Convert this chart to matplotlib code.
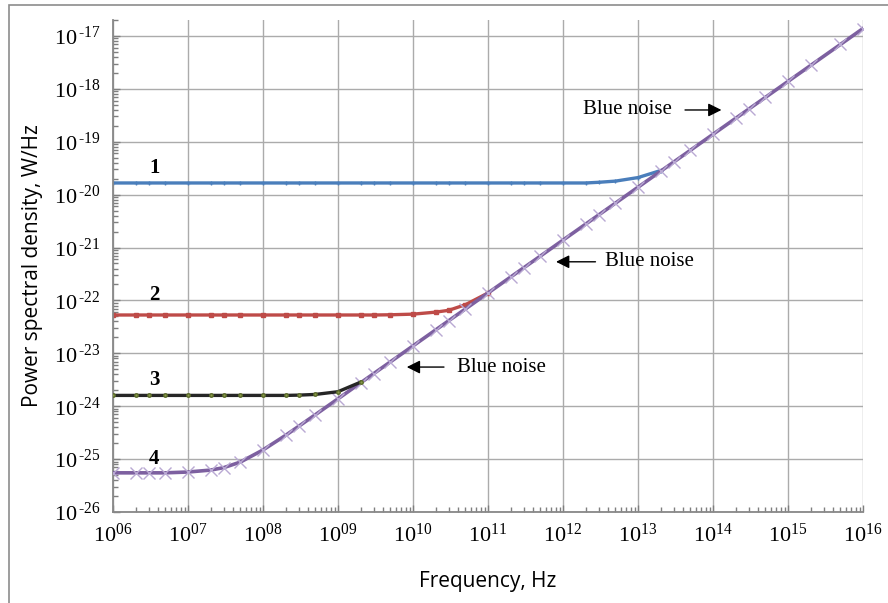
import matplotlib
matplotlib.use('Agg')
import matplotlib.pyplot as plt
from matplotlib.patches import Rectangle
from matplotlib.ticker import LogLocator, FixedLocator, FixedFormatter, NullFormatter

plt.rcParams['mathtext.fontset'] = 'custom'
plt.rcParams['mathtext.rm'] = 'Liberation Serif'
plt.rcParams['mathtext.it'] = 'Liberation Serif:italic'

# frequencies of the marker points, Hz
freq = [1e6, 2e6, 3e6, 5e6, 1e7, 2e7, 3e7, 5e7, 1e8, 2e8, 3e8, 5e8,
        1e9, 2e9, 3e9, 5e9, 1e10, 2e10, 3e10, 5e10, 1e11, 2e11, 3e11, 5e11,
        1e12, 2e12, 3e12, 5e12, 1e13, 2e13, 3e13, 5e13, 1e14, 2e14, 3e14, 5e14,
        1e15, 2e15, 5e15, 1e16]

# curve 4 (purple), W/Hz
psd4 = [5.5e-26, 5.5e-26, 5.5e-26, 5.5e-26, 5.7e-26, 6.2e-26, 6.9e-26, 8.8e-26,
        1.49e-25, 2.81e-25, 4.18e-25, 6.92e-25,
        1.38e-24, 2.76e-24, 4.14e-24, 6.9e-24, 1.38e-23, 2.76e-23, 4.14e-23, 6.9e-23,
        1.38e-22, 2.76e-22, 4.14e-22, 6.9e-22, 1.38e-21, 2.76e-21, 4.14e-21, 6.9e-21,
        1.38e-20, 2.76e-20, 4.14e-20, 6.9e-20, 1.38e-19, 2.76e-19, 4.14e-19, 6.9e-19,
        1.38e-18, 2.76e-18, 6.9e-18, 1.38e-17]

# curve 1 (blue): up to 2e13 Hz
psd1 = [1.66e-20] * 26 + [1.71e-20, 1.8e-20, 2.1e-20, 2.85e-20]

# curve 2 (red): up to 1e11 Hz
psd2 = [5.3e-23] * 15 + [5.35e-23, 5.5e-23, 6.0e-23, 6.5e-23, 8.3e-23, 1.38e-22]

# curve 3 (black): up to 2e9 Hz
psd3 = [1.6e-24] * 10 + [1.62e-24, 1.67e-24, 1.88e-24, 2.85e-24]

xlabels = ['10$^{%02d}$' % k for k in range(6, 17)]
ylabels = ['10$^{\\,\u2010%d}$' % -k for k in range(-26, -16)]

fig = plt.figure(figsize=(8.88, 6.03), dpi=100)
ax = fig.add_axes([113/888, 91/603, 750/888, 492/603])

ax.plot(freq[:len(psd1)], psd1, color='#4a7ebb', lw=2.4, marker='+', ms=3, mew=1)
ax.plot(freq[:len(psd2)], psd2, color='#be4b48', lw=2.4, marker='s', ms=3.2)
ax.plot(freq, psd4, color='#7d60a0', lw=2.6, marker='x', ms=9, mew=1,
        mec='#b9a9d3', zorder=3)
ax.plot(freq[:len(psd3)], psd3, color='#262626', lw=2.4, marker='o', ms=2.5,
        mfc='#8a9a4a', mec='#5a6a2a', zorder=4)

ax.set_xscale('log')
ax.set_yscale('log')
ax.set_xlim(1e6, 1e16)
ax.set_ylim(1e-26, 2e-17)

ax.xaxis.set_major_locator(FixedLocator([10.0**k for k in range(6, 17)]))
ax.xaxis.set_major_formatter(FixedFormatter(xlabels))
ax.yaxis.set_major_locator(FixedLocator([10.0**k for k in range(-26, -16)]))
ax.yaxis.set_major_formatter(FixedFormatter(ylabels))
for axis in (ax.xaxis, ax.yaxis):
    axis.set_minor_locator(LogLocator(base=10, subs=range(2, 10), numticks=50))
    axis.set_minor_formatter(NullFormatter())
for lbl in ax.get_xticklabels() + ax.get_yticklabels():
    lbl.set_family('Liberation Serif')

ax.tick_params(which='both', direction='in', color='#7f7f7f', labelsize=16)
ax.tick_params(which='major', length=5, width=1)
ax.tick_params(which='minor', length=3.5, width=1)
ax.tick_params(axis='x', pad=8)
ax.tick_params(axis='y', pad=9)

ax.grid(True, which='major', color='#ababab', lw=1.0)
ax.set_axisbelow(True)
for s in ('top', 'right'):
    ax.spines[s].set_visible(False)
for s in ('left', 'bottom'):
    ax.spines[s].set_color('#888888')
    ax.spines[s].set_linewidth(1.3)

ax.set_xlabel('Frequency, Hz', fontsize=15, family='Open Sans', labelpad=18)
ax.set_ylabel('Power spectral density, W/Hz', fontsize=15, family='Open Sans', labelpad=8)

# curve numbers
for lab, yv in [('1', 10**-19.5), ('2', 10**-21.9), ('3', 10**-23.5), ('4', 10**-25.0)]:
    ax.text(10**6.55, yv, lab, fontsize=15, fontweight='bold', family='Liberation Serif',
            ha='center', va='center')

# "Blue noise" arrows
arrow = dict(arrowstyle='-|>', color='black', lw=1, mutation_scale=20)
notes = [
    (10**12.27, 10**-18.4, 10**13.59, 10**14.15),
    (10**12.56, 10**-21.27, 10**12.47, 10**11.87),
    (10**10.59, 10**-23.26, 10**10.45, 10**9.88),
]
for tx, ty, tail, tip in notes:
    ax.text(tx, ty, 'Blue noise', fontsize=15, family='Liberation Serif',
            ha='left', va='center')
    ax.annotate('', xy=(tip, ty), xytext=(tail, ty), arrowprops=arrow)

# outer frame
fig.patches.append(Rectangle((9/888, -0.1), 1.0, 1 - 5/603 + 0.1,
                             transform=fig.transFigure, fill=False,
                             edgecolor='#8c8c8c', lw=1.2))

plt.savefig('out.png', dpi=100)
